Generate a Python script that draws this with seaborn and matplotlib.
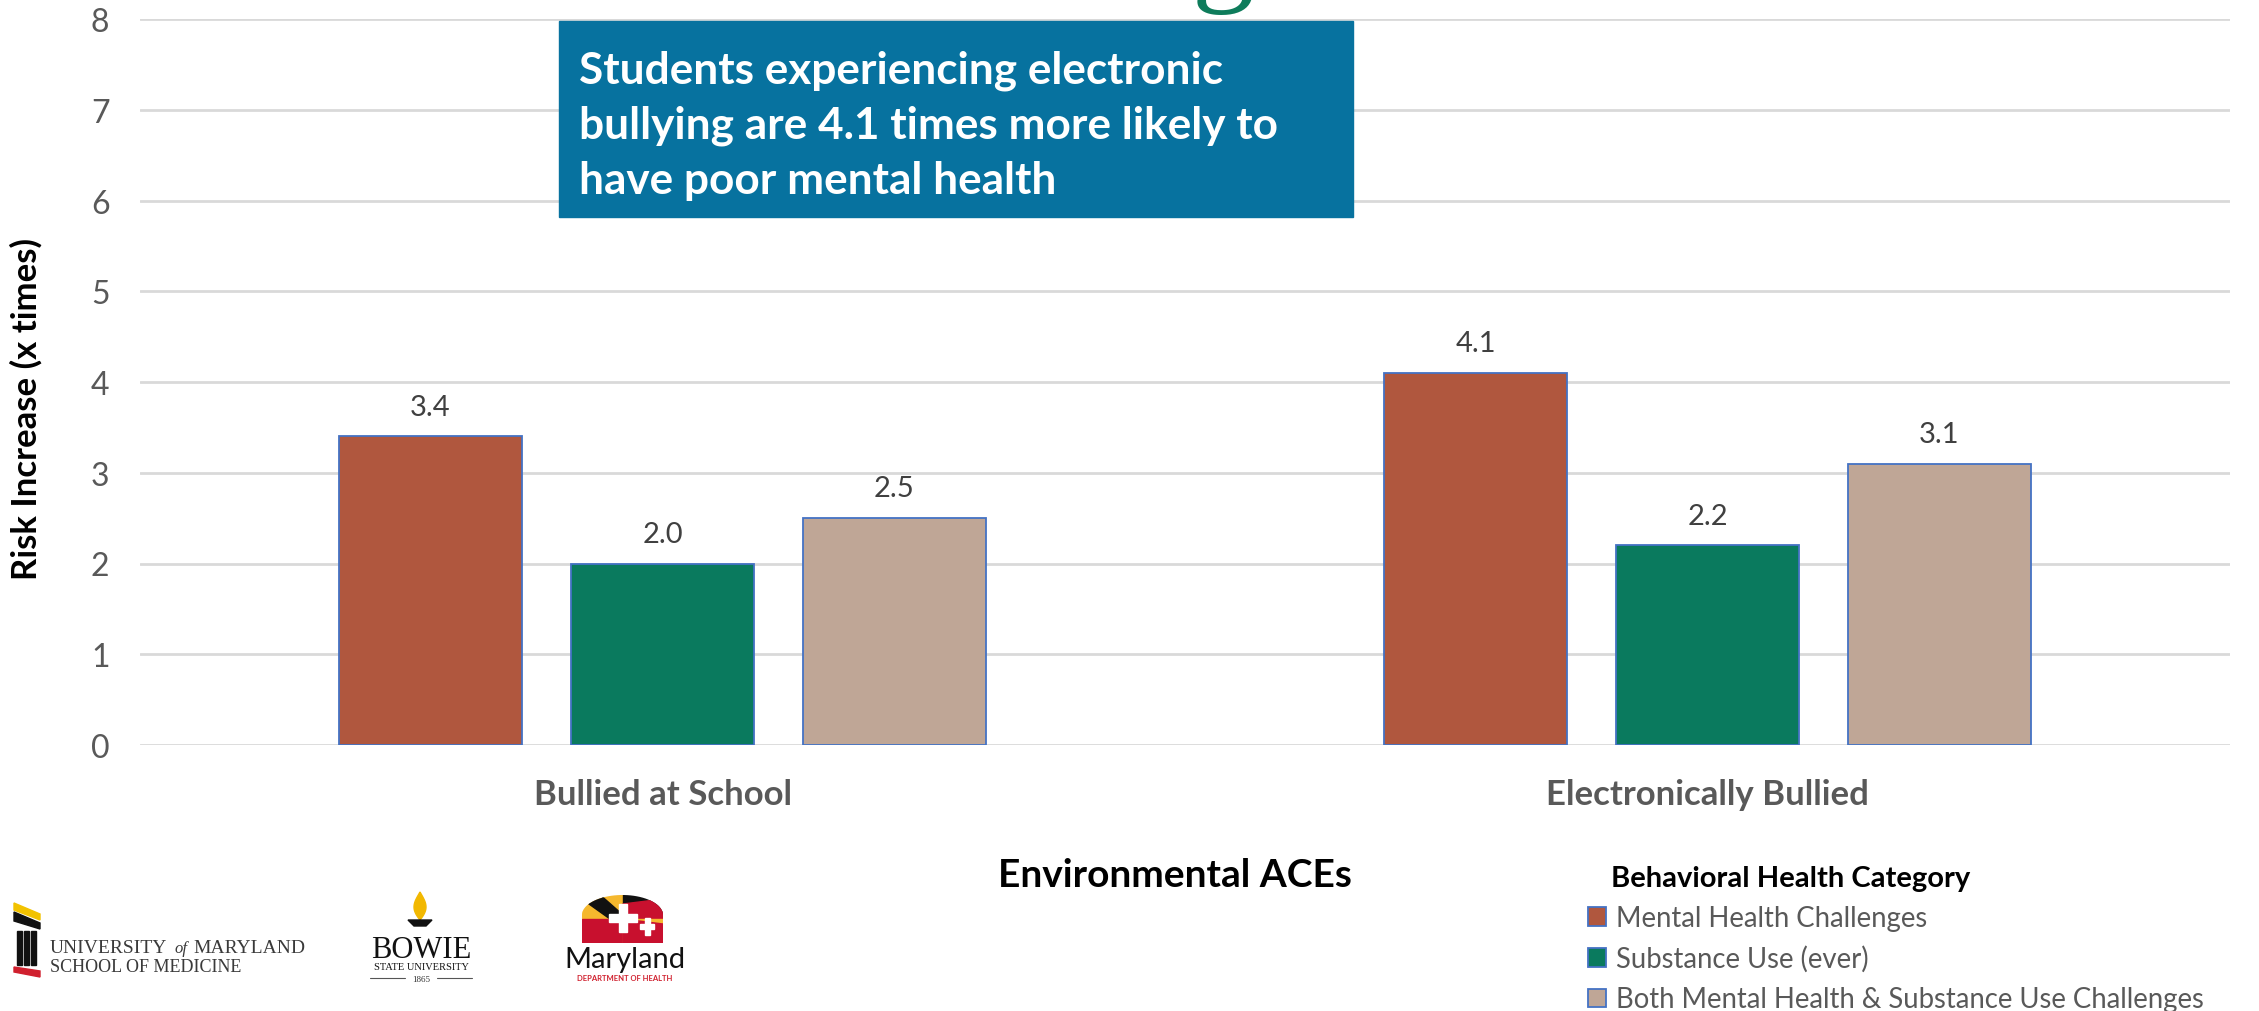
import numpy as np
import pandas as pd
import matplotlib
matplotlib.use("Agg")
import matplotlib.pyplot as plt
import matplotlib.patches as mpatches
import seaborn as sns

# ---- data -------------------------------------------------------------
aces = ["Bullied at School", "Electronically Bullied"]
health_categories = [
    "Mental Health Challenges",
    "Substance Use (ever)",
    "Both Mental Health & Substance Use Challenges",
]
mental_health = [3.4, 4.1]
substance_use = [2.0, 2.2]
both_challenges = [2.5, 3.1]
y_ticks = [0, 1, 2, 3, 4, 5, 6, 7, 8]

colors = ["#B0573E", "#0A7A5E", "#BFA696"]

df = pd.DataFrame({
    "ACE": aces * 3,
    "Category": np.repeat(health_categories, len(aces)),
    "Risk": mental_health + substance_use + both_challenges,
})

# ---- style ------------------------------------------------------------
sns.set_theme(style="white")
plt.rcParams["font.family"] = ["Lato", "DejaVu Sans"]

W, H = 2259, 1012
fig = plt.figure(figsize=(W / 100, H / 100), dpi=100)
ax = fig.add_axes([140 / W, 1 - 746 / H, 2090 / W, 726 / H])

sns.barplot(
    data=df, x="ACE", y="Risk", hue="Category",
    hue_order=health_categories, order=aces,
    palette=colors, width=0.666, gap=0.21,
    edgecolor="#4472C4", linewidth=1.3, saturation=1,
    ax=ax,
)

ax.set_ylim(0, 8)
ax.set_yticks(y_ticks)
ax.yaxis.grid(True, color="#D9D9D9", linewidth=2)
ax.set_axisbelow(True)
for s in ax.spines.values():
    s.set_visible(False)
ax.tick_params(axis="both", length=0)
ax.tick_params(axis="y", pad=22, labelsize=23, labelcolor="#595959")
ax.tick_params(axis="x", pad=24, labelsize=25, labelcolor="#595959")
for lbl in ax.get_xticklabels():
    lbl.set_fontweight("bold")

ax.set_ylabel("Risk Increase (x times)", fontsize=25, fontweight="bold", color="black")
ax.yaxis.set_label_coords(-97 / 2090, 0.464)
ax.set_xlabel("Environmental ACEs", fontsize=28, fontweight="bold", color="black")
ax.xaxis.set_label_coords(0.495, -130 / 726)
ax.xaxis.label.set_va("center")

for cont in ax.containers:
    ax.bar_label(cont, fmt="%.1f", padding=12, fontsize=21, color="#404040")

# legend below the plot on the right
handles, labels = ax.get_legend_handles_labels()
ax.legend_.remove()
leg = fig.legend(
    handles, labels, loc="upper left", bbox_to_anchor=(1588 / W, 1 - 906 / H),
    frameon=False, fontsize=19.8,
    handlelength=0.65, handleheight=0.65, handletextpad=0.35,
    labelspacing=0.52, borderpad=0, borderaxespad=0,
)
for t in leg.get_texts():
    t.set_color("#595959")
fig.text(1611 / W, 1 - 879 / H, "Behavioral Health Category", fontsize=21,
         fontweight="bold", color="black", ha="left", va="center")

# ---- overlay in pixel coordinates for callout and logos ----------------
ov = fig.add_axes([0, 0, 1, 1])
ov.set_xlim(0, W)
ov.set_ylim(H, 0)
ov.axis("off")
ov.patch.set_alpha(0)

# heading descender peeking in at the top
ov.text(1223, -12, "g", fontsize=90, family="Liberation Serif",
        color="#0E7C5B", ha="center", va="baseline")

# callout box
ov.add_patch(mpatches.Rectangle((559, 22), 794, 196, color="#07729F", zorder=3))
ov.text(579, 50, "Students experiencing electronic\nbullying are 4.1 times more likely to\nhave poor mental health",
        color="white", fontsize=31.8, fontweight="bold", ha="left", va="top",
        linespacing=1.45, zorder=4)

# University of Maryland School of Medicine mark
ov.add_patch(mpatches.Polygon([[14, 904], [40, 915], [40, 921], [14, 911]], color="#F2C200"))
ov.add_patch(mpatches.Polygon([[14, 913], [40, 924], [40, 930], [14, 922]], color="#111111"))
for cx in [17, 24, 31]:
    ov.add_patch(mpatches.Rectangle((cx, 932), 4.5, 34, color="#111111"))
ov.add_patch(mpatches.Polygon([[14, 968], [40, 972], [40, 978], [14, 973]], color="#D0202E"))
ov.text(50, 953, "UNIVERSITY", family="Liberation Serif", fontsize=14, color="#3A3A3A", va="baseline")
ov.text(181, 953, "of", family="Liberation Serif", fontsize=12, style="italic", color="#3A3A3A",
        va="baseline", ha="center")
ov.text(305, 953, "MARYLAND", family="Liberation Serif", fontsize=14, color="#3A3A3A",
        va="baseline", ha="right")
ov.text(50, 972, "SCHOOL OF MEDICINE", family="Liberation Serif", fontsize=13, color="#3A3A3A",
        va="baseline")

# Bowie State University mark
t = np.linspace(0, 1, 40)
fx = 420 + 7 * np.sin(np.pi * t) * (1 - 0.3 * t)
flame = np.column_stack([np.concatenate([fx, 840 - fx[::-1]]),
                         np.concatenate([921 - 28 * t, 921 - 28 * t[::-1]])])
ov.add_patch(mpatches.Polygon(flame, color="#F2B800"))
ov.add_patch(mpatches.Polygon([[408, 921], [432, 921], [426, 927], [414, 927]], color="#111111"))
ov.text(421, 958, "BOWIE", family="Liberation Serif", fontsize=22, color="#111111",
        ha="center", va="baseline")
ov.text(421, 970, "STATE UNIVERSITY", family="Liberation Serif", fontsize=7.5, color="#111111",
        ha="center", va="baseline")
ov.plot([370, 405], [979, 979], color="#555555", lw=0.8)
ov.plot([437, 472], [979, 979], color="#555555", lw=0.8)
ov.text(421, 982, "1865", family="Liberation Serif", fontsize=6.5, color="#333333",
        ha="center", va="baseline")

# Maryland Department of Health mark
ang = np.linspace(np.pi, 0, 40)
arch = np.vstack([[[582, 944], [582, 916]],
                  np.column_stack([622.5 + 40.5 * np.cos(ang), 916 - 20 * np.sin(ang)]),
                  [[663, 916], [663, 944]]])
clip = mpatches.Polygon(arch, closed=True, transform=ov.transData)
parts = [
    mpatches.Rectangle((582, 894), 41, 26, color="#F5B82E"),
    mpatches.Polygon([[582, 900], [598, 894], [623, 916], [623, 920], [610, 920]], color="#111111"),
    mpatches.Rectangle((623, 894), 40, 26, color="#111111"),
    mpatches.Polygon([[623, 905], [663, 900], [663, 920], [623, 920]], color="#C8102E"),
    mpatches.Rectangle((582, 920), 41, 24, color="#C8102E"),
    mpatches.Rectangle((623, 920), 40, 24, color="#F5B82E"),
    mpatches.Polygon([[623, 920], [663, 925], [663, 944], [623, 944]], color="#C8102E"),
    mpatches.Rectangle((609, 915), 28, 8, color="white"),
    mpatches.Rectangle((619, 905), 8, 28, color="white"),
    mpatches.Rectangle((640, 925), 14, 5, color="white"),
    mpatches.Rectangle((645, 919), 5, 17, color="white"),
]
for p in parts:
    ov.add_patch(p)
    p.set_clip_path(clip)
ov.text(625, 968, "Maryland", fontsize=21, color="#111111", ha="center", va="baseline",
        family="Lato")
ov.text(625, 981, "DEPARTMENT OF HEALTH", fontsize=5.5, color="#D0202E", ha="center",
        va="baseline", fontweight="bold")

fig.savefig("out.png", dpi=100)
